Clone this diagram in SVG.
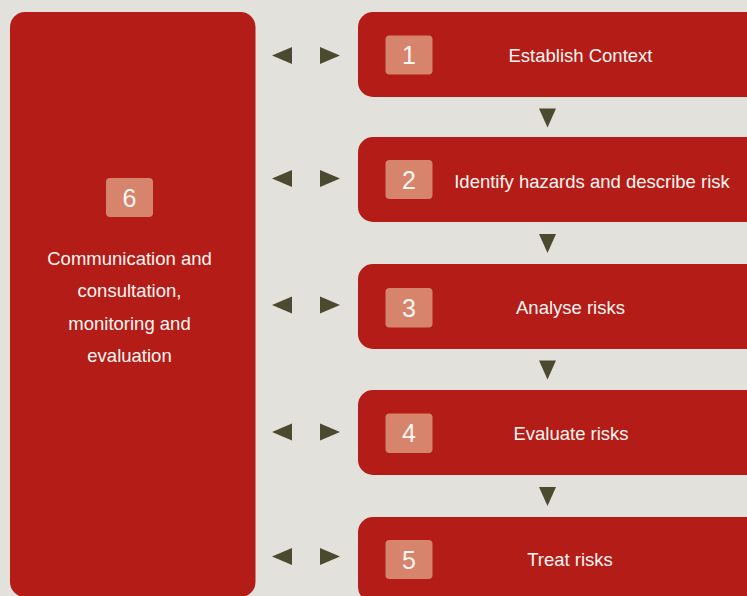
<svg xmlns="http://www.w3.org/2000/svg" width="747" height="596" viewBox="0 0 747 596">
<style>
.box{fill:#B31C17}
.num{fill:#D6846B}
.arr{fill:#4A4A2F}
.t{font-family:"Liberation Sans",Arial,sans-serif;font-size:18.5px;fill:#FFF6F2;text-anchor:middle}
.n{font-family:"Liberation Sans",Arial,sans-serif;font-size:25px;fill:#FFF6F2;text-anchor:middle}
</style>
<rect width="747" height="596" fill="#E3E1DB"/>
<g id="node6">
<rect class="box" x="10" y="12" width="245.5" height="585" rx="15"/>
<rect class="num" x="106" y="178" width="47" height="39" rx="4"/>
<text class="n" x="129.5" y="206.5">6</text>
<text class="t" x="129.5" y="265">Communication and</text>
<text class="t" x="129.5" y="297">consultation,</text>
<text class="t" x="129.5" y="329.5">monitoring and</text>
<text class="t" x="129.5" y="362">evaluation</text>
</g>
<g id="node1">
<rect class="box" x="358" y="12" width="404" height="85" rx="15"/>
<rect class="num" x="385.5" y="35.5" width="47" height="39" rx="4"/>
<text class="n" x="409" y="64">1</text>
<text class="t" x="580.5" y="62">Establish Context</text>
</g>
<g id="node2">
<rect class="box" x="358" y="137" width="404" height="85" rx="15"/>
<rect class="num" x="385.5" y="160" width="47" height="39" rx="4"/>
<text class="n" x="409" y="188.5">2</text>
<text class="t" x="592" y="188">Identify hazards and describe risk</text>
</g>
<g id="node3">
<rect class="box" x="358" y="264" width="404" height="85" rx="15"/>
<rect class="num" x="385.5" y="288" width="47" height="39.5" rx="4"/>
<text class="n" x="409" y="316.5">3</text>
<text class="t" x="570.5" y="314">Analyse risks</text>
</g>
<g id="node4">
<rect class="box" x="358" y="390" width="404" height="85" rx="15"/>
<rect class="num" x="385.5" y="413.5" width="47" height="39.5" rx="4"/>
<text class="n" x="409" y="442">4</text>
<text class="t" x="571" y="439.5">Evaluate risks</text>
</g>
<g id="node5">
<rect class="box" x="358" y="517" width="404" height="85" rx="15"/>
<rect class="num" x="385.5" y="540" width="47" height="39" rx="4"/>
<text class="n" x="409" y="568.5">5</text>
<text class="t" x="570" y="566">Treat risks</text>
</g>
<g id="connectors">
<polygon class="arr" points="272,55.5 292,47 292,64"/>
<polygon class="arr" points="340,55.5 320,47 320,64"/>
<polygon class="arr" points="272,178.5 292,170 292,187"/>
<polygon class="arr" points="340,178.5 320,170 320,187"/>
<polygon class="arr" points="272,305 292,296.5 292,313.5"/>
<polygon class="arr" points="340,305 320,296.5 320,313.5"/>
<polygon class="arr" points="272,432 292,423.5 292,440.5"/>
<polygon class="arr" points="340,432 320,423.5 320,440.5"/>
<polygon class="arr" points="272,556.5 292,548 292,565"/>
<polygon class="arr" points="340,556.5 320,548 320,565"/>
<polygon class="arr" points="539,108.5 556,108.5 547.5,127.5"/>
<polygon class="arr" points="539,234 556,234 547.5,253"/>
<polygon class="arr" points="539,360.5 556,360.5 547.5,379.5"/>
<polygon class="arr" points="539,487 556,487 547.5,506"/>
</g>
</svg>
